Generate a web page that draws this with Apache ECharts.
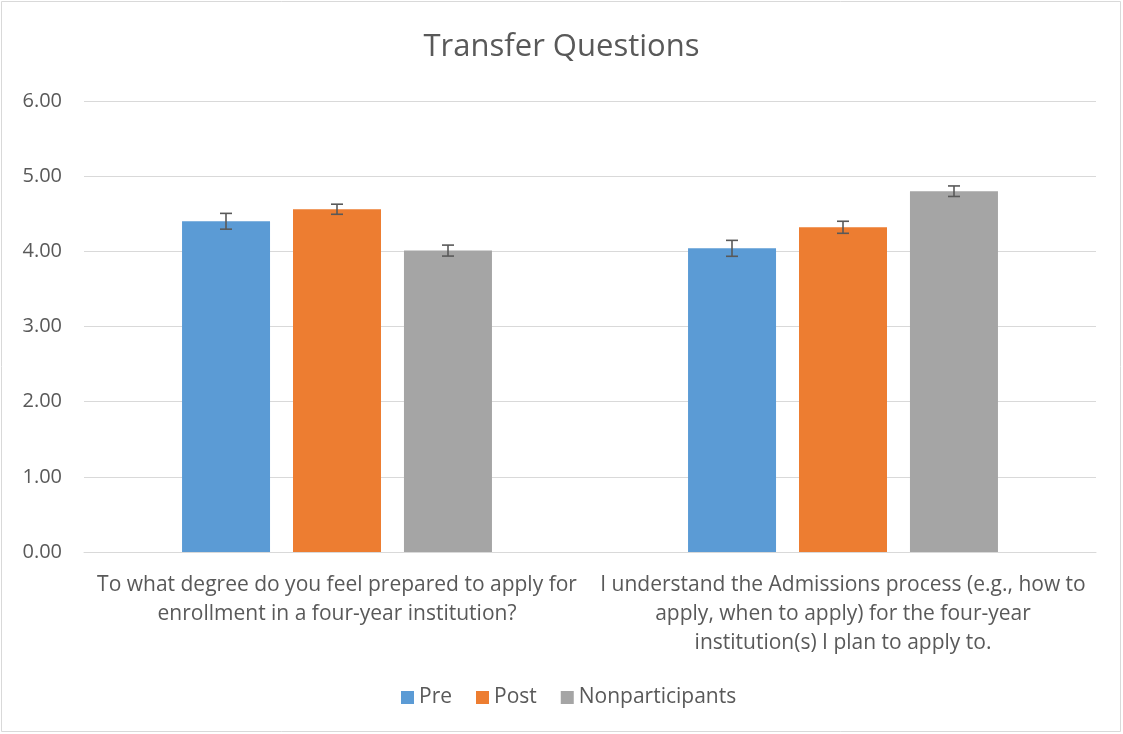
<!DOCTYPE html>
<html>
<head>
<meta charset="utf-8">
<script src="https://cdn.jsdelivr.net/npm/echarts@6/dist/echarts.min.js"></script>
<style>
  html, body { margin: 0; padding: 0; background: #fff; }
  #chart { width: 1123px; height: 734px; }
</style>
</head>
<body>
<div id="chart"></div>
<script>
const categories = [
    'To what degree do you feel prepared to apply for enrollment in a four-year institution?',
    'I understand the Admissions process (e.g., how to apply, when to apply) for the four-year institution(s) I plan to apply to.'
];
// wrapped label text as it appears under each group
const categoryLabels = [
    'To what degree do you feel prepared to apply for\nenrollment in a four-year institution?',
    'I understand the Admissions process (e.g., how to\napply, when to apply) for the four-year\ninstitution(s) I plan to apply to.'
];
const seriesNames = ['Pre', 'Post', 'Nonparticipants'];
const preValues = [4.40, 4.04];
const postValues = [4.56, 4.32];
const nonValues = [4.01, 4.80];
const preErr = [0.105, 0.106];
const postErr = [0.067, 0.08];
const nonErr = [0.073, 0.07];
const yTicks = [0, 1, 2, 3, 4, 5, 6];

const colors = ['#5B9BD5', '#ED7D31', '#A5A5A5'];
const textColor = '#595959';
const font = '"Open Sans", Lato, sans-serif';
const barWidth = 88;
const barGapPx = 23;

const chart = echarts.init(document.getElementById('chart'));

const values = [preValues, postValues, nonValues];
const errs = [preErr, postErr, nonErr];

// error bars drawn through the category/value axes
const errorSeries = values.map((vals, si) => ({
    type: 'custom',
    name: seriesNames[si] + ' err',
    z: 10,
    silent: true,
    data: vals.map((v, i) => [i, v - errs[si][i], v + errs[si][i]]),
    renderItem: (params, api) => {
        const offset = (si - 1) * (barWidth + barGapPx);
        const lo = api.coord([api.value(0), api.value(1)]);
        const hi = api.coord([api.value(0), api.value(2)]);
        const x = lo[0] + offset;
        const cap = 6;
        const style = { stroke: '#595959', lineWidth: 1.6 };
        return {
            type: 'group',
            children: [
                { type: 'line', shape: { x1: x, y1: lo[1], x2: x, y2: hi[1] }, style },
                { type: 'line', shape: { x1: x - cap, y1: lo[1], x2: x + cap, y2: lo[1] }, style },
                { type: 'line', shape: { x1: x - cap, y1: hi[1], x2: x + cap, y2: hi[1] }, style }
            ]
        };
    }
}));

const option = {
    animation: false,
    textStyle: { fontFamily: font },
    title: {
        text: 'Transfer Questions',
        left: 'center',
        top: 27,
        textStyle: { fontFamily: font, fontSize: 31, fontWeight: 'normal', color: textColor }
    },
    legend: {
        data: seriesNames,
        bottom: 21,
        left: 396,
        itemWidth: 13,
        itemHeight: 13,
        itemGap: 24,
        icon: 'rect',
        textStyle: { fontFamily: font, fontSize: 21, color: textColor }
    },
    grid: { left: 84, right: 27, top: 101, bottom: 182, containLabel: false },
    xAxis: {
        type: 'category',
        data: categories,
        axisLine: { lineStyle: { color: '#D9D9D9' } },
        axisTick: { show: false },
        axisLabel: {
            interval: 0,
            lineHeight: 29,
            margin: 19,
            fontSize: 21,
            fontFamily: font,
            color: textColor,
            formatter: (v, i) => categoryLabels[i]
        }
    },
    yAxis: {
        type: 'value',
        min: yTicks[0],
        max: yTicks[yTicks.length - 1],
        interval: 1,
        axisLine: { show: false },
        axisTick: { show: false },
        splitLine: { lineStyle: { color: '#D9D9D9', width: 1 } },
        axisLabel: {
            margin: 22,
            fontSize: 20,
            fontFamily: font,
            color: textColor,
            formatter: v => v.toFixed(2)
        }
    },
    series: [
        ...values.map((vals, si) => ({
            type: 'bar',
            name: seriesNames[si],
            data: vals,
            barWidth: barWidth,
            barGap: (barGapPx / barWidth * 100).toFixed(1) + '%',
            itemStyle: { color: colors[si] }
        })),
        ...errorSeries
    ],
    graphic: [{
        type: 'rect',
        shape: { x: 1.5, y: 1.5, width: 1119, height: 730 },
        style: { fill: 'none', stroke: '#D9D9D9', lineWidth: 1 },
        silent: true
    }]
};

chart.setOption(option);
</script>
</body>
</html>
